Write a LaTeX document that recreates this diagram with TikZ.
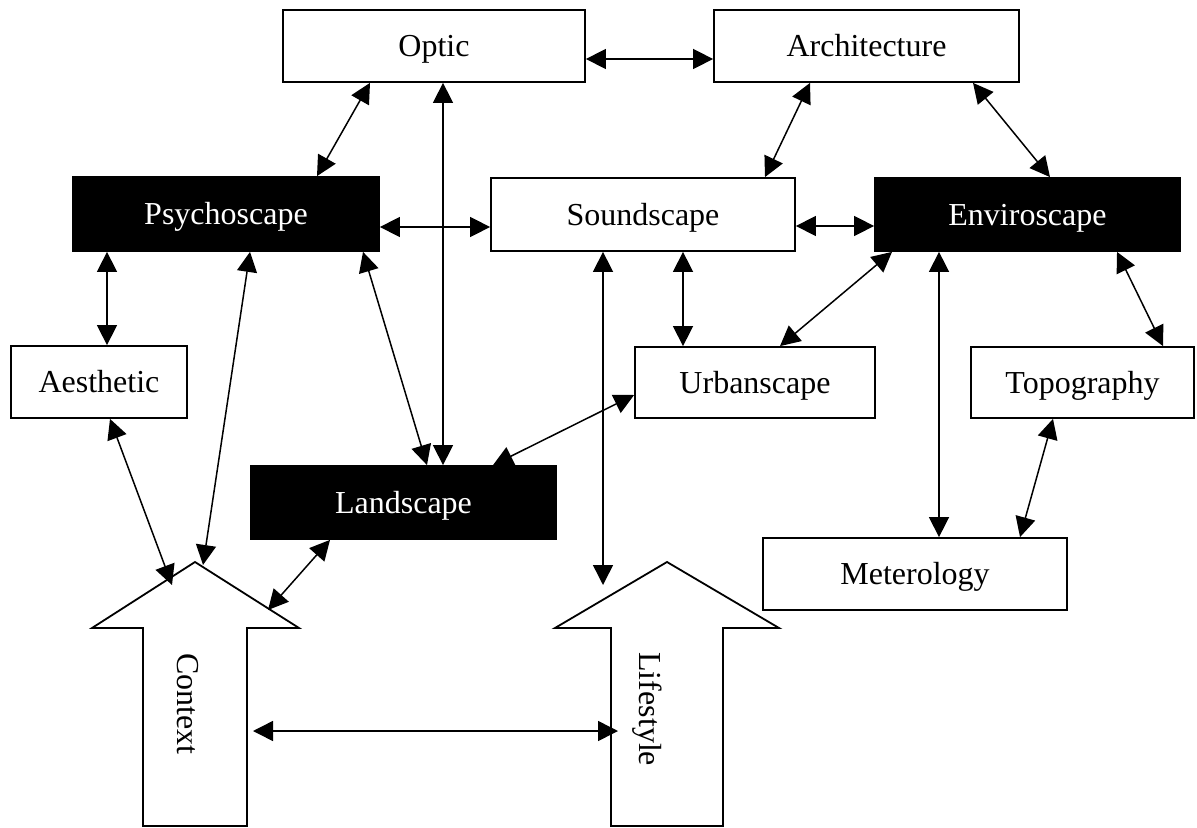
\documentclass[tikz,border=0pt]{standalone}
\usepackage{fontspec}
\setmainfont{Liberation Serif}
\usetikzlibrary{arrows.meta,calc}
\begin{document}
\begin{tikzpicture}[x=0.5pt,y=-0.5pt,
  box/.style={draw,line width=0.9pt,inner sep=0pt,text height=10.6pt,text depth=0pt,font=\fontsize{16}{19}\selectfont},
  wbox/.style={box,fill=white},
  bbox/.style={box,fill=black,text=white},
  link/.style={line width=0.75pt,{Triangle[length=10pt,width=10pt]}-{Triangle[length=10pt,width=10pt]}},
  blockarrow/.style={draw,line width=0.9pt,fill=white,line join=miter},
  vlabel/.style={font=\fontsize{16}{19}\selectfont,rotate=-90,anchor=base west,inner sep=0pt}]
\useasboundingbox (0,0) rectangle (1197,828);

% boxes
\node[wbox,minimum width=151pt,minimum height=36pt] (optic) at (434,46) {Optic};
\node[wbox,minimum width=152.5pt,minimum height=36pt] (arch) at (866.5,46) {Architecture};
\node[bbox,minimum width=153pt,minimum height=37pt] (psycho) at (226,214) {Psychoscape};
\node[wbox,minimum width=152pt,minimum height=36.5pt] (sound) at (643,214.5) {Soundscape};
\node[bbox,minimum width=152.5pt,minimum height=36.5pt] (enviro) at (1027.5,214.5) {Enviroscape};
\node[wbox,minimum width=88pt,minimum height=36pt] (aesth) at (99,382) {Aesthetic};
\node[wbox,minimum width=120pt,minimum height=35.5pt] (urban) at (755,382.5) {Urbanscape};
\node[wbox,minimum width=111.5pt,minimum height=35.5pt] (topo) at (1082.5,382.5) {Topography};
\node[bbox,minimum width=152.5pt,minimum height=36.5pt] (land) at (403.5,502.5) {Landscape};
\node[wbox,minimum width=152pt,minimum height=36pt] (meteo) at (915,574) {Meterology};

% block arrows
\coordinate (ctip) at (195,562);
\coordinate (ltip) at (667,562);
\draw[blockarrow] (ctip) -- ++(104,66) -- ++(-52,0) -- ++(0,198) -- ++(-104,0) -- ++(0,-198) -- ++(-51,0) -- cycle;
\draw[blockarrow] (ltip) -- ++(112,66) -- ++(-56,0) -- ++(0,198) -- ++(-112,0) -- ++(0,-198) -- ++(-56,0) -- cycle;
\node[vlabel] (context) at (177,653) {Context};
\node[vlabel] (lifestyle) at (639,652) {Lifestyle};
\coordinate (cshaft) at (247,731);
\coordinate (lshaft) at (611,731);

% connectors
\draw[link] ($(optic.east)+(0,13)$) -- ($(arch.west)+(0,13)$);
\draw[link] ($(optic.south)+(-64,0)$) -- ($(psycho.north)+(91,0)$);
\draw[link] ($(optic.south)+(9,0)$) -- ($(land.north)+(39.5,0)$);
\draw[link] ($(arch.south)+(-56.5,0)$) -- ($(sound.north)+(122,0)$);
\draw[link] ($(arch.south)+(106.5,0)$) -- ($(enviro.north)+(22.5,0)$);
\draw[link] ($(psycho.east)+(0,13)$) -- ($(sound.west)+(0,12.5)$);
\draw[link] ($(sound.east)+(0,11.5)$) -- ($(enviro.west)+(0,11.5)$);
\draw[link] ($(psycho.south)+(-119,0)$) -- ($(aesth.north)+(8,0)$);
\draw[link] ($(psycho.south)+(24,0)$) -- ($(ctip)+(8,3)$);
\draw[link] ($(psycho.south)+(137,0)$) -- ($(land.north)+(23.5,0)$);
\draw[link] ($(sound.south)+(-40,0)$) -- ($(ltip)+(-64,23)$);
\draw[link] ($(sound.south)+(40,0)$) -- ($(urban.north)+(-72,0)$);
\draw[link] ($(enviro.south)+(-135.5,0)$) -- ($(urban.north)+(25,0)$);
\draw[link] ($(enviro.south)+(-88.5,0)$) -- ($(meteo.north)+(24,0)$);
\draw[link] ($(enviro.south)+(89.5,0)$) -- ($(topo.north)+(80.5,0)$);
\draw[link] ($(topo.south)+(-29.5,0)$) -- ($(meteo.north)+(105,0)$);
\draw[link] ($(urban.west)+(0,12.5)$) -- ($(land.north)+(89.5,0)$);
\draw[link] ($(aesth.south)+(11,0)$) -- ($(ctip)+(-23,23)$);
\draw[link] ($(land.south)+(-73.5,0)$) -- ($(ctip)+(73,48)$);
\draw[link] ($(cshaft)+(6,0)$) -- ($(lshaft)+(7,0)$);
\end{tikzpicture}
\end{document}
